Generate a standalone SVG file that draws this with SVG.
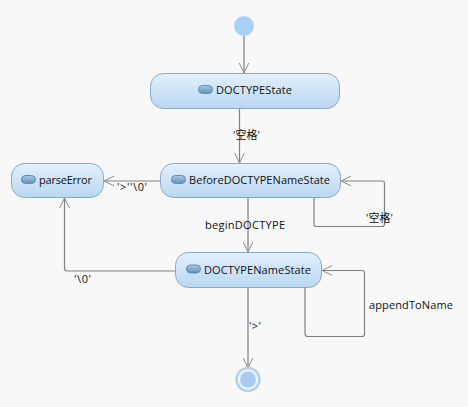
<svg xmlns="http://www.w3.org/2000/svg" width="468" height="407" viewBox="0 0 468 407">
<style>
text{font-family:"Open Sans","Noto Sans CJK SC",sans-serif;font-size:11px;fill:#111}
.n{fill:url(#g);stroke:#8aa9c6;stroke-width:1}
.i{fill:url(#ig);stroke:#5f8cb0;stroke-width:1}
.c{fill:none;stroke:#808080;stroke-width:1.2;marker-end:url(#a)}
</style>
<defs>
<linearGradient id="g" x1="0" y1="0" x2="0" y2="1"><stop offset="0" stop-color="#e2f0fd"/><stop offset="1" stop-color="#b9d7f1"/></linearGradient>
<linearGradient id="ig" x1="0" y1="0" x2="0" y2="1"><stop offset="0" stop-color="#a9cbe6"/><stop offset="1" stop-color="#5f8fb8"/></linearGradient>
<marker id="a" markerUnits="userSpaceOnUse" markerWidth="12" markerHeight="12" refX="11" refY="6" orient="auto"><path d="M1 1.200L11 6L1 10.800" fill="none" stroke="#8c8c8c" stroke-width="1"/></marker>
</defs>
<rect width="468" height="407" fill="#f8f8f8"/>
<g id="connectors">
<path class="c" d="M244 35V73"/>
<path class="c" d="M239.500 109V163"/>
<path class="c" d="M160 181H104"/>
<path class="c" d="M314 198V224Q314 226.500 316 226.500H382Q384.500 226.500 384.500 224V183Q384.500 181 382 181H341"/>
<path class="c" d="M248 198V252"/>
<path class="c" d="M175 271H67Q64.500 271 64.500 268V198"/>
<path class="c" d="M305 288V334Q305 336.500 308 336.500H362Q364.500 336.500 364.500 334V273Q364.500 270.500 362 270.500H322"/>
<path class="c" d="M248 288V368"/>
</g>
<g id="start"><circle cx="244" cy="26" r="10" fill="#a9d0f5"/></g>
<g id="DOCTYPEState"><rect class="n" x="150.500" y="73.500" width="189" height="35" rx="13"/><rect class="i" x="198.500" y="85.500" width="14" height="8" rx="4"/><text x="216" y="94" textLength="76">DOCTYPEState</text></g>
<g id="parseError"><rect class="n" x="11.500" y="163.500" width="92" height="34" rx="13"/><rect class="i" x="21.500" y="175.500" width="14" height="8" rx="4"/><text x="39" y="184" textLength="53">parseError</text></g>
<g id="BeforeDOCTYPENameState"><rect class="n" x="160.500" y="163.500" width="180" height="34" rx="13"/><rect class="i" x="171.500" y="175.500" width="14" height="8" rx="4"/><text x="189" y="184" textLength="141">BeforeDOCTYPENameState</text></g>
<g id="DOCTYPENameState"><rect class="n" x="175.500" y="252.500" width="146" height="35" rx="13"/><rect class="i" x="186.500" y="265" width="14" height="8" rx="4"/><text x="204" y="274" textLength="107">DOCTYPENameState</text></g>
<g id="end"><circle cx="248" cy="379.500" r="11.500" fill="#eef5fc" stroke="#b5d0e8" stroke-width="2.500"/><circle cx="248" cy="379.500" r="8" fill="#a9cbef"/></g>
<g id="labels">
<text x="233" y="139">'空格'</text>
<text x="117" y="191" textLength="30">'&gt;''\0'</text>
<text x="366" y="222">'空格'</text>
<text x="205" y="229" textLength="80">beginDOCTYPE</text>
<text x="74" y="283" textLength="17">'\0'</text>
<text x="369" y="309" textLength="84">appendToName</text>
<text x="249" y="330" textLength="12">'&gt;'</text>
</g>
</svg>
